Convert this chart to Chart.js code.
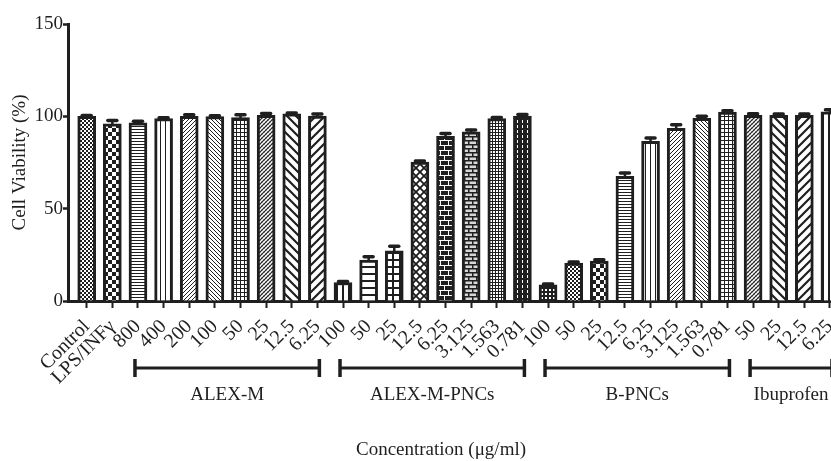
<!DOCTYPE html>
<html>
<head>
<meta charset="utf-8">
<script src="https://cdn.jsdelivr.net/npm/chart.js@4.4.1/dist/chart.umd.min.js"></script>
<style>
  html, body { margin: 0; padding: 0; background: #fff; overflow: hidden; }
  #wrap { position: relative; width: 872px; height: 461px; }
</style>
</head>
<body>
<div id="wrap"><canvas id="c"></canvas></div>
<script>
// Concentration labels along the x axis (µg/ml), controls first
const categories = [
  'Control', 'LPS/INFγ',
  '800', '400', '200', '100', '50', '25', '12.5', '6.25',
  '100', '50', '25', '12.5', '6.25', '3.125', '1.563', '0.781',
  '100', '50', '25', '12.5', '6.25', '3.125', '1.563', '0.781',
  '50', '25', '12.5', '6.25'
];
// Mean cell viability (%)
const viability = [
  100, 96, 96.5, 98.8, 100, 99.8, 99.3, 100.5, 101.3, 100.2,
  10, 22.2, 27.2, 75.2, 89.2, 91.6, 98.8, 100.2,
  8.7, 20.6, 21.6, 67.5, 86.5, 93.5, 98.9, 102.3,
  100.6, 100.5, 100.5, 102.4
];
// Standard error of the mean
const sem = [
  0.5, 1.8, 0.8, 0.5, 0.8, 0.5, 1.5, 1.0, 0.5, 1.0,
  0.5, 1.8, 2.5, 0.6, 1.5, 1.0, 0.6, 0.8,
  0.5, 0.5, 0.8, 1.8, 1.8, 2.0, 1.2, 0.7,
  0.8, 0.7, 0.7, 1.2
];
// Treatment groups and the bar indices they span
const groupNames = ['ALEX-M', 'ALEX-M-PNCs', 'B-PNCs', 'Ibuprofen'];
const groupFirst = [2, 10, 18, 26];
const groupLast  = [9, 17, 25, 29];
const yTicks = [0, 50, 100, 150];
const xTitle = 'Concentration (μg/ml)';
const yTitle = 'Cell Viability (%)';

const INK = '#1f1f1f';
const FONT = "'Liberation Serif', 'Times New Roman', serif";

const canvas = document.getElementById('c');
const ctx = canvas.getContext('2d');

// ---- hatch fills ----
function tile(w, h, bg, draw) {
  const c = document.createElement('canvas');
  c.width = w; c.height = h;
  const g = c.getContext('2d');
  g.fillStyle = bg; g.fillRect(0, 0, w, h);
  g.fillStyle = INK; g.strokeStyle = INK;
  draw(g, w, h);
  return ctx.createPattern(c, 'repeat');
}
function diag(g, s, lw, forward) {
  g.lineWidth = lw;
  g.beginPath();
  for (let k = -1; k <= 1; k++) {
    if (forward) { g.moveTo(k * s - 1, s + 1); g.lineTo(k * s + s + 1, -1); }
    else { g.moveTo(k * s - 1, -1); g.lineTo(k * s + s + 1, s + 1); }
  }
  g.stroke();
}
const fills = {
  fineChecker: tile(4, 4, '#fff', g => { g.fillRect(0, 0, 2, 2); g.fillRect(2, 2, 2, 2); }),
  checker: tile(8, 8, '#fff', g => { g.fillRect(0, 0, 4, 4); g.fillRect(4, 4, 4, 4); }),
  hLines: tile(4, 3, '#fff', g => g.fillRect(0, 0, 4, 1)),
  vLines: tile(5, 4, '#fff', g => g.fillRect(0, 0, 1, 4)),
  vLinesBold: tile(6, 4, '#fff', g => g.fillRect(0, 0, 2, 4)),
  diagFwd: tile(4, 4, '#fff', g => diag(g, 4, 1, true)),
  diagBack: tile(4, 4, '#fff', g => diag(g, 4, 1, false)),
  grid: tile(4, 4, '#fff', g => { g.fillRect(0, 0, 4, 1); g.fillRect(0, 0, 1, 4); }),
  crossFine: tile(4, 4, '#fff', g => { diag(g, 4, 1.2, true); g.globalAlpha = 0.45; diag(g, 4, 0.7, false); }),
  diagBackWide: tile(9, 9, '#fff', g => diag(g, 9, 2.2, false)),
  diagFwdWide: tile(9, 9, '#fff', g => diag(g, 9, 2.2, true)),
  hLinesBold: tile(4, 7, '#fff', g => g.fillRect(0, 0, 4, 2)),
  gridBold: tile(7, 7, '#fff', g => { g.fillRect(0, 0, 7, 2); g.fillRect(0, 0, 2, 7); }),
  diamond: tile(8, 8, '#fff', g => { diag(g, 8, 1.8, true); diag(g, 8, 1.8, false); }),
  brickDark: tile(8, 10, INK, g => {
    g.fillStyle = '#fff';
    g.fillRect(0, 0, 8, 1); g.fillRect(0, 5, 8, 1);
    g.fillRect(0, 0, 1, 5); g.fillRect(4, 5, 1, 5);
  }),
  brickLight: tile(8, 8, '#d6d6d6', g => {
    g.fillRect(0, 0, 8, 1.5); g.fillRect(0, 4, 8, 1.5);
    g.fillRect(0, 0, 1.5, 4); g.fillRect(4, 4, 1.5, 4);
  }),
  denseDots: tile(3, 3, INK, g => { g.fillStyle = '#fff'; g.fillRect(1, 1, 2, 2); }),
  dashedV: tile(5, 5, INK, g => { g.fillStyle = '#fff'; g.fillRect(2, 0, 1, 3); }),
  squareDots: tile(4, 4, INK, g => { g.fillStyle = '#fff'; g.fillRect(1, 1, 2, 2); })
};
const fillOrder = [
  'fineChecker', 'checker', 'hLines', 'vLines', 'diagFwd', 'diagBack', 'grid', 'crossFine', 'diagBackWide', 'diagFwdWide',
  'vLinesBold', 'hLinesBold', 'gridBold', 'diamond', 'brickDark', 'brickLight', 'denseDots', 'dashedV',
  'squareDots', 'fineChecker', 'checker', 'hLines', 'vLines', 'diagFwd', 'diagBack', 'grid',
  'crossFine', 'diagBackWide', 'diagFwdWide', 'vLinesBold'
];

// ---- error bars (mean + SEM, upper side only) ----
const errorBars = {
  id: 'errorBars',
  afterDatasetsDraw(chart) {
    const meta = chart.getDatasetMeta(0);
    const y = chart.scales.y;
    const g = chart.ctx;
    g.save();
    g.strokeStyle = INK;
    g.lineCap = 'round';
    meta.data.forEach((bar, i) => {
      const top = y.getPixelForValue(viability[i] + sem[i]);
      g.lineWidth = 2.5;
      g.beginPath(); g.moveTo(bar.x, bar.y); g.lineTo(bar.x, top); g.stroke();
      g.lineWidth = 3.5;
      g.beginPath(); g.moveTo(bar.x - 4.5, top); g.lineTo(bar.x + 4.5, top); g.stroke();
    });
    g.restore();
  }
};

// ---- group brackets under the tick labels, plus the x-axis title ----
const groupBrackets = {
  id: 'groupBrackets',
  afterDraw(chart) {
    const x = chart.scales.x;
    const g = chart.ctx;
    const yLine = 368;
    g.save();
    g.strokeStyle = INK;
    g.fillStyle = INK;
    g.font = '19px ' + FONT;
    g.textAlign = 'center';
    g.textBaseline = 'middle';
    groupNames.forEach((name, k) => {
      const x0 = x.getPixelForValue(groupFirst[k]) - 3;
      const x1 = x.getPixelForValue(groupLast[k]) + 2;
      g.lineWidth = 3;
      g.beginPath(); g.moveTo(x0, yLine); g.lineTo(x1, yLine); g.stroke();
      g.lineWidth = 3.5;
      g.beginPath();
      g.moveTo(x0, yLine - 9); g.lineTo(x0, yLine + 9);
      g.moveTo(x1, yLine - 9); g.lineTo(x1, yLine + 9);
      g.stroke();
      g.fillText(name, (x0 + x1) / 2, 395);
    });
    g.fillText(xTitle, 441, 450);
    g.restore();
  }
};

new Chart(ctx, {
  type: 'bar',
  data: {
    datasets: [{
      data: viability.map((v, i) => ({ x: i, y: v })),
      backgroundColor: fillOrder.map(k => fills[k]),
      borderColor: INK,
      borderWidth: 3,
      barThickness: 18
    }]
  },
  options: {
    responsive: true,
    maintainAspectRatio: false,
    animation: false,
    layout: { padding: { top: 24, right: 0, bottom: 0, left: 0 } },
    plugins: { legend: { display: false }, tooltip: { enabled: false } },
    scales: {
      x: {
        type: 'linear',
        min: -0.73,
        max: 30.64,
        offset: false,
        afterBuildTicks: s => { s.ticks = categories.map((c, i) => ({ value: i })); },
        afterFit: s => { s.height = 160; s.paddingLeft = 0; s.paddingRight = 0; },
        grid: { drawOnChartArea: false, offset: false, drawTicks: true, tickLength: 7, tickWidth: 2, tickColor: INK },
        border: { display: true, color: INK, width: 3 },
        ticks: {
          autoSkip: false,
          minRotation: 45,
          maxRotation: 45,
          padding: 7,
          color: INK,
          font: { family: FONT, size: 20 },
          callback: v => categories[v]
        },
        title: { display: false }
      },
      y: {
        min: 0,
        max: 150,
        afterBuildTicks: s => { s.ticks = yTicks.map(v => ({ value: v })); },
        afterFit: s => { s.width = 68; s.paddingTop = 0; s.paddingBottom = 0; },
        grid: { drawOnChartArea: false, drawTicks: true, tickLength: 5, tickWidth: 2.5, tickColor: INK },
        border: { display: true, color: INK, width: 3 },
        ticks: { padding: 0, color: INK, font: { family: FONT, size: 19 } },
        title: {
          display: true,
          text: yTitle,
          color: INK,
          font: { family: FONT, size: 19 },
          padding: { top: 9, bottom: 0 }
        }
      }
    }
  },
  plugins: [errorBars, groupBrackets]
});
</script>
</body>
</html>
